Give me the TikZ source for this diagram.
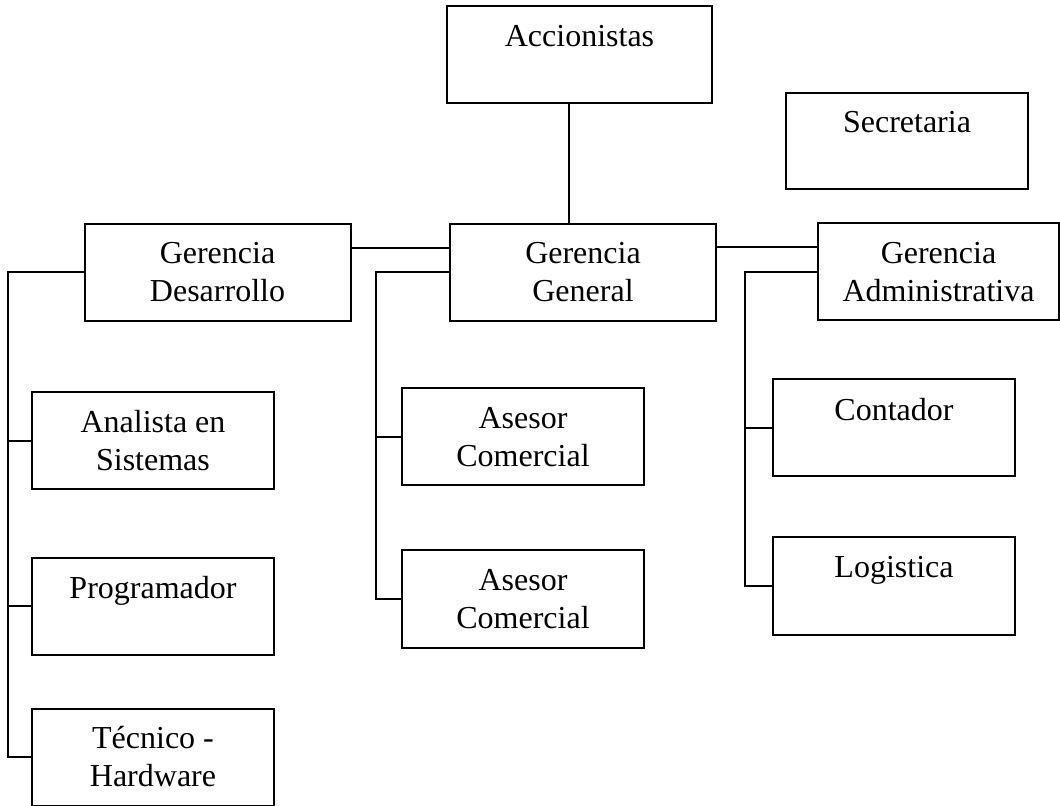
\documentclass[tikz,border=0pt]{standalone}
\usepackage{fontspec}
\setmainfont{Liberation Serif}
\tikzset{
  orgbox/.style={draw, line width=1pt, rectangle, inner sep=0pt,
    minimum width=121pt, minimum height=48.5pt, align=center,
    font=\fontsize{16}{19}\selectfont},
  widebox/.style={orgbox, minimum width=133pt},
  link/.style={line width=1pt}
}
\begin{document}
\begin{tikzpicture}[x=0.5pt, y=-0.5pt]
        \useasboundingbox[fill=white] (0,0) rectangle (1060,806);

        % Top level
        \node[widebox, minimum width=132.5pt] (acc) at (579.5,54.5) {Accionistas\\[-6pt]\strut};
        \node[orgbox, minimum height=48pt] (sec) at (907,141) {Secretaria\\[-6pt]\strut};

        % Gerencias
        \node[widebox] (gd) at (217.5,272.5) {Gerencia\\Desarrollo};
        \node[widebox] (gg) at (583,272.5) {Gerencia\\General};
        \node[orgbox, minimum width=120.5pt] (ga) at (938.5,272) {Gerencia\\Administrativa};

        % Desarrollo
        \node[orgbox] (as) at (153,441) {Analista en\\Sistemas};
        \node[orgbox] (prog) at (153,606.5) {Programador\\[-6pt]\strut};
        \node[orgbox] (tec) at (153,757) {Técnico -\\Hardware};

        % General
        \node[orgbox] (ac1) at (523,437) {Asesor\\Comercial};
        \node[orgbox] (ac2) at (523,599) {Asesor\\Comercial};

        % Administrativa
        \node[orgbox] (cont) at (894,428) {Contador\\[-6pt]\strut};
        \node[orgbox] (log) at (894,586) {Logistica\\[-6pt]\strut};

        % Bus lines
        \coordinate (busL) at (8,272.5);
        \coordinate (busM) at (376,272.5);
        \coordinate (busR) at (745,272);

        % Connectors
        \draw[link] ([xshift=-5.25pt]acc.south) -- ([xshift=-5.25pt]acc.south |- gg.north);
        \draw[link] ([yshift=12.25pt]gd.east) -- ([yshift=12.25pt]gd.east -| gg.west);
        \draw[link] ([yshift=12.75pt]gg.east) -- ([yshift=12.75pt]gg.east -| ga.west);

        \draw[link] (gd.west) -- (busL) |- (tec.west);
        \draw[link] (as.west) -- (as.west -| busL);
        \draw[link] (prog.west) -- (prog.west -| busL);

        \draw[link] (gg.west) -- (busM) |- (ac2.west);
        \draw[link] (ac1.west) -- (ac1.west -| busM);

        \draw[link] (ga.west) -- (busR) |- (log.west);
        \draw[link] (cont.west) -- (cont.west -| busR);
    \end{tikzpicture}
\end{document}
